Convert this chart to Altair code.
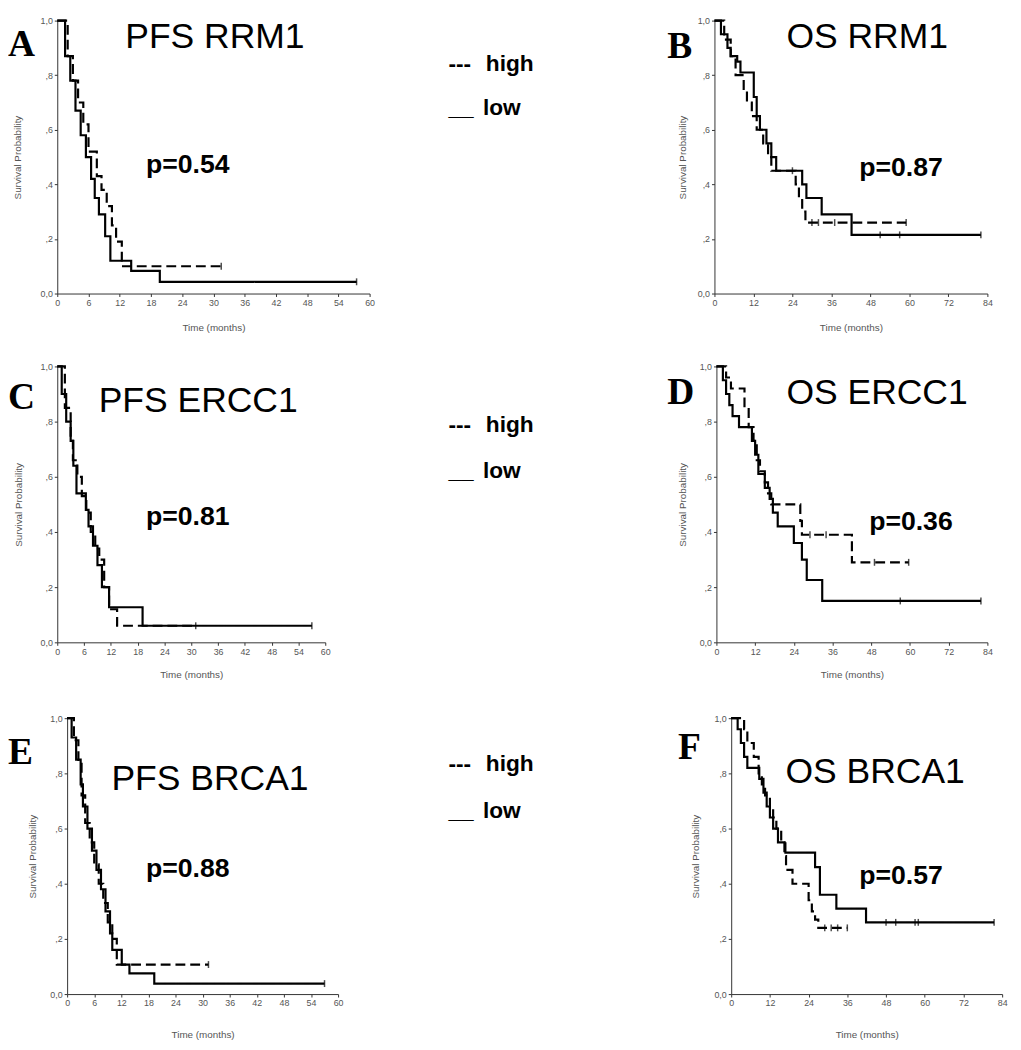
import altair as alt
import pandas as pd

# ---------------- data ----------------
# A: PFS RRM1
a_high_t = [0, 2, 3, 4, 5, 6, 7.6, 8.5, 9.5, 10.5, 11.3, 12.4, 31.5]
a_high_s = [1.0, 0.87, 0.78, 0.7, 0.62, 0.52, 0.43, 0.38, 0.32, 0.25, 0.19, 0.10, 0.10]
a_high_cens = [31.5]
a_low_t = [0, 1.5, 2.5, 3.5, 4.5, 5.5, 6.5, 7.2, 8.0, 9.2, 10.2, 14.2, 19.7, 57.5]
a_low_s = [1.0, 0.87, 0.78, 0.67, 0.58, 0.5, 0.42, 0.35, 0.29, 0.21, 0.12, 0.083, 0.043, 0.043]
a_low_cens = [57.5]

# B: OS RRM1
b_high_t = [0, 3, 5, 6.5, 9, 10, 11.5, 13, 15, 16.5, 17.5, 25, 26, 27, 28, 59]
b_high_s = [1.0, 0.93, 0.87, 0.8, 0.75, 0.7, 0.65, 0.6, 0.55, 0.5, 0.45, 0.4, 0.35, 0.3, 0.26, 0.26]
b_high_cens = [30, 32, 37, 59]
b_low_t = [0, 2, 4, 5, 7, 8, 12.1, 13, 14, 16, 17.5, 19, 27, 28.3, 33, 42.2, 82]
b_low_s = [1.0, 0.95, 0.9, 0.87, 0.85, 0.81, 0.72, 0.65, 0.6, 0.55, 0.5, 0.45, 0.4, 0.35, 0.29, 0.215, 0.215]
b_low_cens = [24, 51, 57, 82]

# C: PFS ERCC1
c_high_t = [0, 1.7, 3, 3.5, 4.5, 5.5, 6.5, 7.5, 8.5, 9.4, 10.5, 11.6, 13.4, 31]
c_high_s = [1.0, 0.85, 0.73, 0.66, 0.6, 0.53, 0.47, 0.4, 0.34, 0.3, 0.2, 0.12, 0.06, 0.06]
c_high_cens = [31]
c_low_t = [0, 1, 2, 3, 3.6, 4.3, 6.4, 7, 8, 9, 10, 11.6, 19.1, 57]
c_low_s = [1.0, 0.9, 0.8, 0.73, 0.64, 0.54, 0.48, 0.42, 0.35, 0.28, 0.2, 0.127, 0.06, 0.06]
c_low_cens = [57]

# D: OS ERCC1
d_high_t = [0, 3, 4.5, 8.7, 10, 11.5, 12.5, 13.5, 15, 16, 17, 26, 26.5, 42, 59.6]
d_high_s = [1.0, 0.96, 0.92, 0.85, 0.78, 0.73, 0.66, 0.62, 0.58, 0.54, 0.5, 0.44, 0.39, 0.29, 0.29]
d_high_cens = [29, 34, 49, 59.6]
d_low_t = [0, 2, 3, 4, 5, 7, 11, 12, 13, 15, 16.5, 17.5, 19, 24, 26.5, 28, 32.8, 82]
d_low_s = [1.0, 0.95, 0.9, 0.86, 0.82, 0.78, 0.73, 0.68, 0.61, 0.56, 0.52, 0.47, 0.42, 0.36, 0.3, 0.226, 0.15, 0.15]
d_low_cens = [57, 82]

# E: PFS BRCA1
e_high_t = [0, 1.5, 2.5, 3.2, 4, 5, 6, 7, 8, 9, 10, 11, 31.3]
e_high_s = [1.0, 0.92, 0.84, 0.72, 0.62, 0.55, 0.47, 0.4, 0.33, 0.26, 0.2, 0.107, 0.107]
e_high_cens = [31.3]
e_low_t = [0, 1, 2, 3, 3.5, 4.5, 5.5, 6.5, 7.5, 8.5, 9.5, 10, 12.1, 13.8, 19.3, 57]
e_low_s = [1.0, 0.93, 0.85, 0.76, 0.68, 0.6, 0.52, 0.45, 0.38, 0.3, 0.22, 0.16, 0.107, 0.075, 0.038, 0.038]
e_low_cens = [57]

# F: OS BRCA1
f_high_t = [0, 4, 5, 7, 8.5, 9.5, 10.5, 12, 13, 14, 15.5, 16.5, 17, 19, 24, 25, 26, 27, 36]
f_high_s = [1.0, 0.96, 0.91, 0.86, 0.8, 0.76, 0.72, 0.68, 0.64, 0.6, 0.55, 0.5, 0.45, 0.4, 0.34, 0.3, 0.27, 0.24, 0.24]
f_high_cens = [29, 31, 33, 36]
f_low_t = [0, 2, 3, 4, 5, 8.7, 10, 11, 12, 13, 14.5, 16.8, 26, 27.5, 32.6, 41.8, 81.5]
f_low_s = [1.0, 0.96, 0.91, 0.86, 0.82, 0.78, 0.73, 0.68, 0.64, 0.6, 0.55, 0.513, 0.46, 0.36, 0.31, 0.26, 0.26]
f_low_cens = [48, 51, 57, 58, 81.5]

letters = ["A", "B", "C", "D", "E", "F"]
titles = ["PFS RRM1", "OS RRM1", "PFS ERCC1", "OS ERCC1", "PFS BRCA1", "OS BRCA1"]
pvalues = ["p=0.54", "p=0.87", "p=0.81", "p=0.36", "p=0.88", "p=0.57"]
groups = ["high", "low"]
x_title = "Time (months)"
y_title = "Survival Probability"

series = [
    (a_high_t, a_high_s, a_high_cens, a_low_t, a_low_s, a_low_cens),
    (b_high_t, b_high_s, b_high_cens, b_low_t, b_low_s, b_low_cens),
    (c_high_t, c_high_s, c_high_cens, c_low_t, c_low_s, c_low_cens),
    (d_high_t, d_high_s, d_high_cens, d_low_t, d_low_s, d_low_cens),
    (e_high_t, e_high_s, e_high_cens, e_low_t, e_low_s, e_low_cens),
    (f_high_t, f_high_s, f_high_cens, f_low_t, f_low_s, f_low_cens),
]

# ---------------- layout (pixels) ----------------
layout = [
    dict(xmax=60, step=6, w=317, h=277, letter=(-50, 36), title=(69, 28), p=(90, 155), xtp=16, ytp=18,
         legend=(397, 435, 51, 432, 96)),
    dict(xmax=84, step=12, w=277, h=277, letter=(-48, 38), title=(73, 28), p=(147, 158), xtp=16, ytp=10),
    dict(xmax=60, step=6, w=272, h=280, letter=(-50, 43), title=(42, 46), p=(90, 161), xtp=14, ytp=17,
         legend=(397, 435, 67, 432, 113)),
    dict(xmax=84, step=12, w=275, h=280, letter=(-50, 38), title=(71, 38), p=(155, 166), xtp=14, ytp=12),
    dict(xmax=60, step=6, w=275, h=280, letter=(-60, 46), title=(45, 73), p=(80, 161), xtp=22, ytp=13,
         legend=(387, 425, 54, 422, 101)),
    dict(xmax=84, step=12, w=275, h=280, letter=(-54, 41), title=(55, 66), p=(130, 168), xtp=22, ytp=14),
]

one = pd.DataFrame({"k": [0]})


def txt(label, x, y, size, weight="normal", font="Liberation Sans"):
    return alt.Chart(one).mark_text(
        align="left", baseline="alphabetic", font=font, fontSize=size,
        fontWeight=weight, color="black"
    ).encode(x=alt.value(x), y=alt.value(y), text=alt.value(label))


def step_value(t, s, c):
    v = s[0]
    for ti, si in zip(t, s):
        if ti <= c:
            v = si
    return v


def panel(i):
    ht, hs, hc, lt, ls, lc = series[i]
    cfg = layout[i]
    rows = []
    for g, (t, s) in zip(groups, [(ht, hs), (lt, ls)]):
        for k, (ti, si) in enumerate(zip(t, s)):
            rows.append({"t": ti, "s": si, "grp": g, "i": k})
    df = pd.DataFrame(rows)
    crow = []
    for g, (t, s, cs) in zip(groups, [(ht, hs, hc), (lt, ls, lc)]):
        for c in cs:
            crow.append({"t": c, "s": step_value(t, s, c), "grp": g})
    cdf = pd.DataFrame(crow)

    xmax = cfg["xmax"]
    xaxis = alt.Axis(values=list(range(0, xmax + 1, cfg["step"])), title=x_title,
                     titlePadding=cfg["xtp"], labelOverlap=False, labelFlush=False)
    yaxis = alt.Axis(values=[0, 0.2, 0.4, 0.6, 0.8, 1.0], title=y_title,
                     titlePadding=cfg["ytp"], labelOverlap=False, labelFlush=False,
                     labelExpr="datum.value == 1 ? '1,0' : (datum.value == 0 ? '0,0' : ',' + round(datum.value * 10))")
    xenc = alt.X("t:Q", scale=alt.Scale(domain=[0, xmax], nice=False), axis=xaxis)
    yenc = alt.Y("s:Q", scale=alt.Scale(domain=[0, 1], nice=False), axis=yaxis)
    lines = alt.Chart(df).mark_line(interpolate="step-after", color="black", strokeWidth=2.2).encode(
        x=xenc, y=yenc, detail="grp:N", order="i:Q",
        strokeDash=alt.StrokeDash("grp:N", scale=alt.Scale(domain=groups, range=[[10, 5], [1, 0]]), legend=None),
    )
    cens = alt.Chart(cdf).mark_tick(orient="vertical", color="black", size=7, thickness=1.5).encode(
        x=xenc, y=yenc)
    layers = [lines, cens,
              txt(letters[i], cfg["letter"][0], cfg["letter"][1], 38, "bold", "Liberation Serif"),
              txt(titles[i], cfg["title"][0], cfg["title"][1], 36),
              txt(pvalues[i], cfg["p"][0], cfg["p"][1], 27, "bold")]
    if "legend" in cfg:
        dx, hx, hy, lx, ly = cfg["legend"]
        layers += [txt("---", dx, hy, 23, "bold"), txt(groups[0], hx, hy, 23, "bold"),
                   txt("__", dx, ly, 23, "bold"), txt(groups[1], lx, ly, 23, "bold")]
    return alt.layer(*layers).properties(width=cfg["w"], height=cfg["h"])


p = [panel(i) for i in range(6)]

spacer = alt.Chart(one).mark_point(opacity=0).encode(
    x=alt.value(0), y=alt.value(0)).properties(width=1, height=1)

row1 = alt.hconcat(p[0], p[1], spacing=350, bounds="flush")
row2 = alt.hconcat(p[2], p[3], spacing=397, bounds="flush")
row3 = alt.hconcat(spacer, alt.hconcat(p[4], p[5], spacing=399, bounds="flush"), spacing=9, bounds="flush")

chart = alt.vconcat(row1, alt.vconcat(row2, row3, spacing=34), spacing=29).properties(
    padding={"left": 0, "top": 0, "right": 5, "bottom": 5}
).configure(font="Liberation Sans").configure_view(strokeWidth=0).configure_axis(
    grid=False, tickSize=3, labelFontSize=9, titleFontSize=10, titleFontWeight="normal",
    labelColor="#555555", titleColor="#555555", domainColor="#333333", tickColor="#333333",
    labelPadding=2, labelOverlap=False
)

chart.save("out.html", embed_options={"renderer": "svg", "actions": False})
